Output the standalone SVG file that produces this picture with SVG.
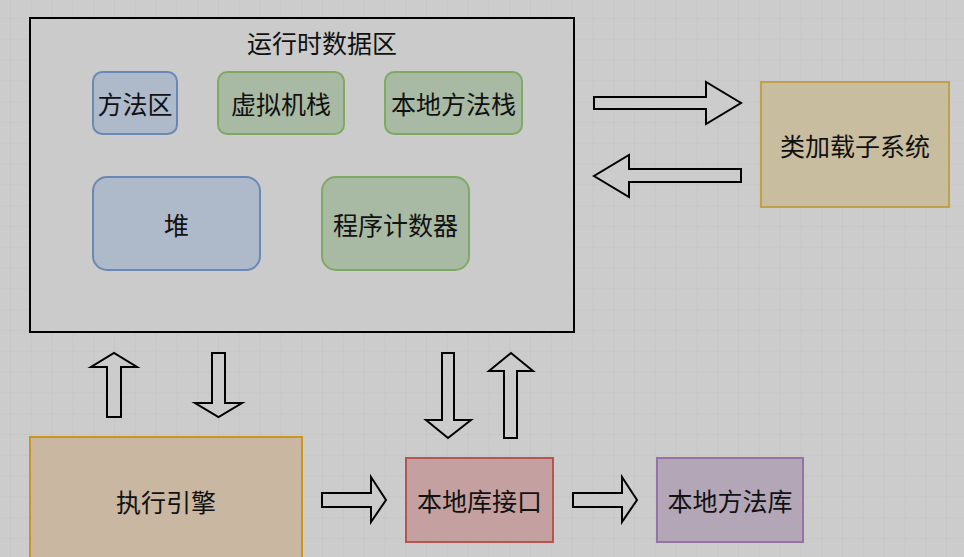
<svg xmlns="http://www.w3.org/2000/svg" width="964" height="557" viewBox="0 0 964 557">
<style>
text{font-family:"Microsoft YaHei","Noto Sans CJK SC","Noto Sans",sans-serif;font-size:25px;fill:#111;text-anchor:middle;dominant-baseline:central}
.arrow{fill:#cccccc;stroke:#000;stroke-width:2;stroke-linejoin:miter}
.blue{fill:#aeb9ca;stroke:#6a88b5;stroke-width:2}
.green{fill:#a9baa4;stroke:#7eaa63;stroke-width:2}
</style>
<defs>
<pattern id="grid" patternUnits="userSpaceOnUse" x="10" y="18" width="20.8" height="20.8">
<path d="M0 0H20.8M0 0V20.8" fill="none" stroke="#c2c2c2" stroke-width="1"/>
</pattern>
</defs>
<rect width="964" height="557" fill="#cccccc"/>
<rect width="964" height="557" fill="url(#grid)"/>

<g id="runtime">
<rect x="30" y="18" width="544" height="314" fill="#cbcbcb" stroke="#000" stroke-width="2"/>
<text x="322" y="42">运行时数据区</text>
</g>
<g id="method-area">
<rect class="blue" x="93" y="72" width="84" height="62" rx="9.3"/>
<text x="135" y="103">方法区</text>
</g>
<g id="vm-stack">
<rect class="green" x="218" y="72" width="126" height="62" rx="9.3"/>
<text x="281" y="103">虚拟机栈</text>
</g>
<g id="native-stack">
<rect class="green" x="385" y="72" width="137" height="62" rx="9.3"/>
<text x="453.5" y="103">本地方法栈</text>
</g>
<g id="heap">
<rect class="blue" x="93" y="177" width="167" height="93" rx="14"/>
<text x="176.5" y="224">堆</text>
</g>
<g id="pc">
<rect class="green" x="322" y="177" width="147" height="93" rx="14"/>
<text x="395.5" y="224">程序计数器</text>
</g>
<g id="classloader">
<rect x="761" y="82" width="188" height="125" fill="#c9bd9f" stroke="#bfa14a" stroke-width="2"/>
<text x="855" y="145">类加载子系统</text>
</g>
<g id="engine">
<rect x="30" y="437" width="272" height="140" fill="#c9b7a2" stroke="#c8961f" stroke-width="2"/>
<text x="166" y="501">执行引擎</text>
</g>
<g id="native-interface">
<rect x="406" y="458" width="147" height="84" fill="#c4a1a0" stroke="#b85450" stroke-width="2"/>
<text x="479.5" y="500">本地库接口</text>
</g>
<g id="native-lib">
<rect x="657" y="458" width="146" height="84" fill="#b3a6b7" stroke="#9673a6" stroke-width="2"/>
<text x="730" y="500">本地方法库</text>
</g>

<g id="connectors">
<polygon class="arrow" points="594,97 706,97 706,82 741,103 706,124 706,109 594,109"/>
<polygon class="arrow" points="741,169 629,169 629,155 594,176 629,197 629,182 741,182"/>
<polygon class="arrow" points="107,417 107,367 91,367 114,353 137,367 121,367 121,417"/>
<polygon class="arrow" points="212,353 225,353 225,403 242,403 218.5,417 195,403 212,403"/>
<polygon class="arrow" points="442,353 454,353 454,420 471,420 448,438 426,420 442,420"/>
<polygon class="arrow" points="504,438 504,371 489,371 511,353 533,371 517,371 517,438"/>
<polygon class="arrow" points="322,493 371,493 371,477 386,500 371,522 371,507 322,507"/>
<polygon class="arrow" points="573,493 622,493 622,477 637,500 622,522 622,507 573,507"/>
</g>
</svg>
